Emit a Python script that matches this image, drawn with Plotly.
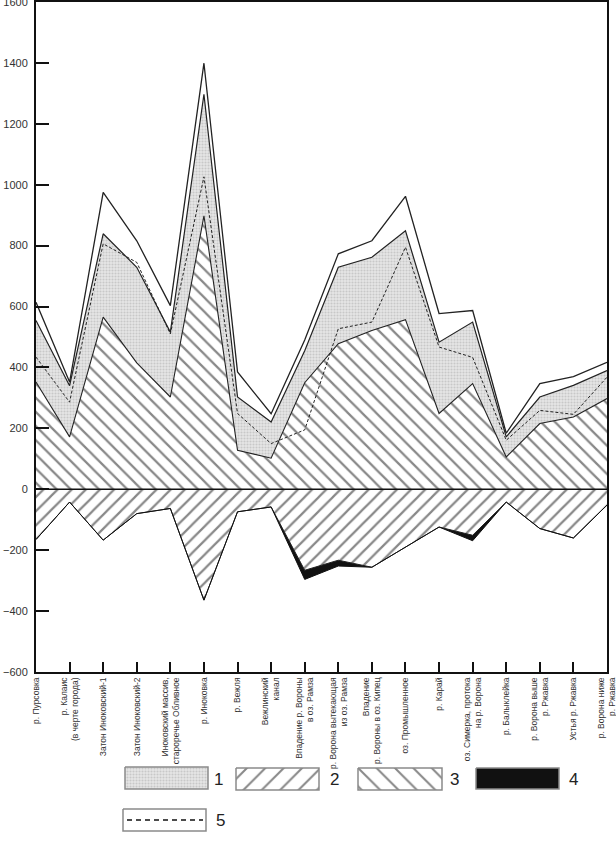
import plotly.graph_objects as go

sites = [
    "р. Пурсовка",
    "р. Калаис<br>(в черте города)",
    "Затон Иноковский-1",
    "Затон Иноковский-2",
    "Иноковский массив,<br>староречье Обливное",
    "р. Иноковка",
    "р. Вежля",
    "Вежлинский<br>канал",
    "Впадение р. Вороны<br>в оз. Рамза",
    "р. Ворона вытекающая<br>из оз. Рамза",
    "Впадение<br>р. Вороны в оз. Кипец",
    "оз. Промышленное",
    "р. Карай",
    "оз. Симерка, протока<br>на р. Ворона",
    "р. Балыклейка",
    "р. Ворона выше<br>р. Ржавка",
    "Устья р. Ржавка",
    "р. Ворона ниже<br>р. Ржавка",
]

# positive side
total_top = [614, 352, 975, 816, 603, 1399, 385, 248, 490, 773, 816, 962, 577, 587, 184, 347, 370, 417]
layer1_top = [554, 340, 839, 729, 516, 1297, 303, 221, 455, 729, 762, 849, 483, 549, 172, 303, 341, 390]
layer3_top = [352, 172, 565, 415, 303, 898, 128, 102, 350, 478, 521, 557, 249, 347, 106, 216, 237, 298]
line5 = [434, 286, 806, 745, 510, 1026, 249, 150, 195, 527, 549, 795, 467, 433, 161, 259, 246, 368]

# negative side
layer2_bottom = [-165, -42, -167, -80, -63, -364, -74, -58, -266, -233, -256, -190, -124, -151, -42, -129, -160, -52]
layer4_bottom = [-165, -42, -167, -80, -63, -364, -74, -58, -296, -252, -256, -190, -124, -169, -42, -129, -160, -52]

y_ticks = list(range(-600, 1601, 200))
legend_labels = ["1", "2", "3", "4", "5"]

x = list(range(len(sites)))

dots = dict(shape=".", size=3, solidity=0.4, fgcolor="#aaaaaa", bgcolor="#e6e6e6")
fwd = dict(shape="/", size=10, solidity=0.22, fgcolor="#111111", bgcolor="white")
back = dict(shape="\\", size=10, solidity=0.22, fgcolor="#111111", bgcolor="white")

fig = go.Figure()

# layer 3 (0 .. layer3_top), then layer 1 on top of it
fig.add_trace(go.Scatter(x=x, y=layer3_top, mode="lines", fill="tozeroy",
                         fillpattern=back, line=dict(color="#222", width=1.1)))
fig.add_trace(go.Scatter(x=x, y=layer1_top, mode="lines", fill="tonexty",
                         fillpattern=dots, line=dict(color="#222", width=1.2)))
fig.add_trace(go.Scatter(x=x, y=total_top, mode="lines",
                         line=dict(color="#222", width=1.3)))
fig.add_trace(go.Scatter(x=x, y=line5, mode="lines",
                         line=dict(color="#222", width=1, dash="3px,2px")))

# layer 2 below zero, layer 4 under it
fig.add_trace(go.Scatter(x=x, y=layer2_bottom, mode="lines", fill="tozeroy",
                         fillpattern=fwd, line=dict(color="#222", width=1)))
fig.add_trace(go.Scatter(x=x, y=layer4_bottom, mode="lines", fill="tonexty",
                         fillcolor="#111111", line=dict(color="#111", width=1)))

# legend drawn on its own hidden axes, units = page pixels
H = 847
top, bot = 2, 10
area = H - top - bot
main_bottom = 672
leg_top = 740
boxes = [
    (125, 208, 767, 789, dict(fillpattern=dots)),
    (236, 319, 768, 790, dict(fillpattern=dict(shape="/", size=13, solidity=0.16,
                                               fgcolor="#111", bgcolor="white"))),
    (358, 442, 768, 790, dict(fillpattern=dict(shape="\\", size=13, solidity=0.16,
                                               fgcolor="#111", bgcolor="white"))),
    (476, 559, 768, 789, dict(fillcolor="#111111")),
    (123, 206, 809, 831, dict(fillcolor="white")),
]
label_pos = [(212, 779), (328, 779), (448, 779), (567, 779), (214, 820)]

for x0, x1, y0, y1, style in boxes:
    fig.add_trace(go.Scatter(x=[x0, x1, x1, x0, x0], y=[-y0, -y0, -y1, -y1, -y0],
                             mode="lines", fill="toself", xaxis="x2", yaxis="y2",
                             line=dict(color="#8a8a8a", width=1.5), **style))
fig.add_trace(go.Scatter(x=[127, 203], y=[-820, -820], mode="lines", xaxis="x2", yaxis="y2",
                         line=dict(color="#111", width=1.3, dash="5px,4px")))

for lab, (lx, ly) in zip(legend_labels, label_pos):
    fig.add_annotation(x=lx, y=-ly, xref="x2", yref="y2", text=lab, showarrow=False,
                       xanchor="left", yanchor="middle",
                       font=dict(size=17, color="#222", family="Liberation Sans, Arial"))

fig.add_shape(type="line", xref="paper", x0=0, x1=1, yref="y", y0=0, y1=0,
              line=dict(color="#111", width=1.5), layer="above")

fig.update_traces(hoverinfo="skip", showlegend=False)

fig.update_layout(
    width=616, height=847,
    margin=dict(l=36, r=9, t=top, b=bot, autoexpand=False),
    paper_bgcolor="white", plot_bgcolor="white",
    font=dict(family="Liberation Sans, Arial", color="#333"),
    xaxis=dict(range=[0, len(sites) - 1], tickmode="array", tickvals=x, ticktext=sites,
               tickangle=-90, ticks="inside", ticklen=10, tickwidth=2, tickcolor="#111",
               showline=True, linecolor="#111", linewidth=2, mirror=True,
               showgrid=False, zeroline=False, tickfont=dict(size=8.5, color="#333"),
               automargin=False, ticklabeloverflow="allow", anchor="y"),
    yaxis=dict(range=[-600, 1600], tickvals=y_ticks, domain=[(H - bot - main_bottom) / area, 1],
               ticks="inside", ticklen=13, tickwidth=2, tickcolor="#111",
               showline=True, linecolor="#111", linewidth=2, mirror=True,
               showgrid=False, zeroline=False, tickfont=dict(size=11, color="#333"),
               automargin=False, ticklabeloverflow="allow", ticklabelstandoff=4, anchor="x"),
    xaxis2=dict(range=[36, 607], domain=[0, 1], visible=False, anchor="y2"),
    yaxis2=dict(range=[-(H - bot), -leg_top], domain=[0, (H - bot - leg_top) / area],
                visible=False, anchor="x2"),
)

# page body has a default 8px margin; drop it so the figure sits at the window corner
fig.write_html("out.html", config={"displayModeBar": False, "staticPlot": True},
               post_script="document.body.style.margin='0';")
